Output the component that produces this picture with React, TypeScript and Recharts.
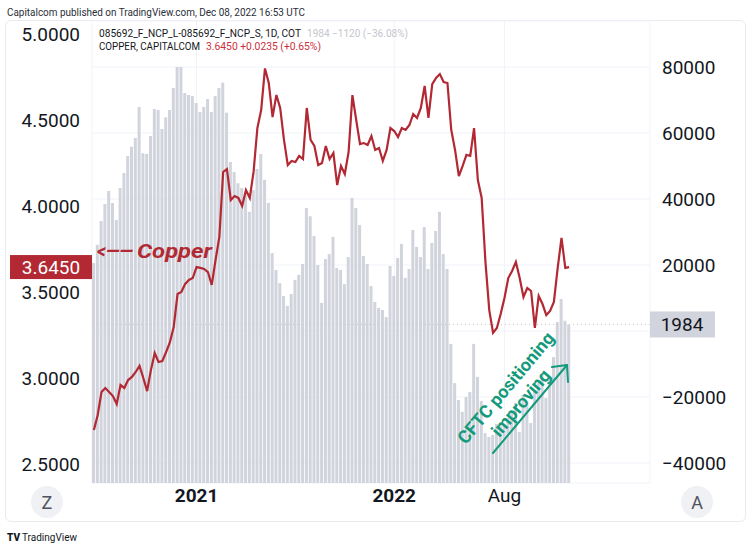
import React from 'react';
import { ComposedChart, Bar, Line, XAxis, YAxis, CartesianGrid, ReferenceLine } from 'recharts';

// Weekly COT net positions (non-commercial long - short), one per week
const cotNetPositions = [
  20600, 26100, 33300, 38500, 42400, 38800, 33600, 43300, 47900, 53000,
  55800, 58500, 67900, 53900, 53600, 59100, 67300, 67000, 61200, 64800,
  67000, 73600, 80000, 80000, 72100, 71500, 71200, 69100, 66400, 67900,
  70300, 66400, 71200, 73600, 75200, 66100, 51200, 48200, 44800, 43300,
  41200, 36100, 42700, 49100, 53600, 45800, 38800, 23600, 18500, 14500,
  10600, 7600, 11200, 15500, 17000, 20300, 37300, 34800, 28800, 20000,
  8500, 21800, 23300, 28500, 19100, 18500, 14200, 22400, 40300, 37300,
  32100, 22700, 20300, 13600, 8800, 7000, 6400, 4200, 19700, 16700,
  22100, 26400, 16100, 18800, 30600, 25500, 22400, 31500, 18800, 26700,
  30300, 36100, 23300, 18800, -3900, -15800, -20900, -24500, -20000, -18500,
  -3900, -13900, -21200, -30900, -32100, -31500, -28200, -28500, -28200, -26400,
  -24500, -21800, -30600, -19400, -21500, -27900, -18500, -15800, -13300, -20300,
  -13900, -7900, 2700, 9700, 3104, 1984,
];

// Copper price (USD/lb) at the same weeks
const copperPrice = [
  2.698, 2.785, 2.919, 2.942, 2.919, 2.895, 2.849, 2.959, 2.942, 2.988,
  3.006, 3.035, 3.070, 3.000, 2.924, 3.047, 3.145, 3.093, 3.099, 3.151,
  3.209, 3.297, 3.488, 3.500, 3.547, 3.570, 3.581, 3.645, 3.640, 3.634,
  3.616, 3.541, 3.686, 3.820, 4.198, 4.215, 4.035, 4.058, 4.047, 4.000,
  4.093, 4.047, 4.198, 4.453, 4.558, 4.800, 4.715, 4.517, 4.645, 4.570,
  4.384, 4.238, 4.262, 4.256, 4.291, 4.273, 4.570, 4.384, 4.349, 4.238,
  4.250, 4.349, 4.273, 4.308, 4.122, 4.233, 4.186, 4.314, 4.645, 4.500,
  4.360, 4.366, 4.355, 4.407, 4.326, 4.337, 4.262, 4.326, 4.453, 4.436,
  4.401, 4.453, 4.442, 4.471, 4.535, 4.512, 4.570, 4.698, 4.512, 4.709,
  4.744, 4.767, 4.721, 4.715, 4.442, 4.326, 4.174, 4.233, 4.297, 4.291,
  4.453, 4.151, 4.047, 3.674, 3.395, 3.262, 3.291, 3.372, 3.465, 3.581,
  3.622, 3.674, 3.581, 3.471, 3.523, 3.506, 3.291, 3.477, 3.430, 3.366,
  3.390, 3.442, 3.640, 3.814, 3.640, 3.645,
];

const xTickIndex = [27, 79, 108];
const xTickLabels = ['2021', '2022', 'Aug'];
const priceTicks = [2.5, 3.0, 3.5, 4.0, 4.5, 5.0];
const cotTicks = [-40000, -20000, 0, 20000, 40000, 60000, 80000];
const priceDomain = [2.3895, 5.0756];
const cotDomain = [-46061, 93939];
const lastCot = 1984;
const lastPrice = 3.645;

const FONT = 'Roboto, "Noto Sans", sans-serif';
const RED = '#b22833';
const GREEN = '#139a7b';
const BAR = '#d1d4dc';

const data = cotNetPositions.map((v, i) => ({
  i,
  cot: [cotDomain[0], v],
  price: copperPrice[i],
}));

const fmtSigned = (v: number) => (v < 0 ? '\u2212' + Math.abs(v) : String(v));

const LeftTick = (props: any) => {
  const { x, y, payload } = props;
  return (
    <text x={x} y={y} dy={7} textAnchor="end" fill="#131722" fontSize={19} fontFamily={FONT}>
      {Number(payload.value).toFixed(4)}
    </text>
  );
};

const RightTick = (props: any) => {
  const { x, y, payload } = props;
  if (payload.value === 0) return <g />;
  return (
    <text x={x} y={y} dy={7} textAnchor="start" fill="#131722" fontSize={19} fontFamily={FONT}>
      {fmtSigned(payload.value)}
    </text>
  );
};

const BottomTick = (props: any) => {
  const { x, y, payload } = props;
  const k = xTickIndex.indexOf(payload.value);
  const label = k >= 0 ? xTickLabels[k] : '';
  const bold = /^\d{4}$/.test(label);
  return (
    <text x={x} y={y} dy={14} textAnchor="middle" fill="#131722" fontSize={19}
      fontWeight={bold ? 700 : 400} fontFamily={FONT}>
      {label}
    </text>
  );
};

const PriceBadge = (props: any) => {
  const vb = props.viewBox || {};
  const x = vb.x ?? 92;
  const y = vb.y ?? 0;
  return (
    <g>
      <rect x={x - 82} y={y - 12} width={82} height={24} fill={RED} />
      <text x={x - 41} y={y + 7} textAnchor="middle" fill="#fff" fontSize={19} fontFamily={FONT}>
        {lastPrice.toFixed(4)}
      </text>
    </g>
  );
};

const CotBadge = (props: any) => {
  const vb = props.viewBox || {};
  const x = (vb.x ?? 92) + (vb.width ?? 558);
  const y = vb.y ?? 0;
  return (
    <g>
      <rect x={x} y={y - 13} width={65} height={26} fill={BAR} />
      <text x={x + 32} y={y + 7} textAnchor="middle" fill="#131722" fontSize={19} fontFamily={FONT}>
        {lastCot}
      </text>
    </g>
  );
};

export default function App() {
  return (
    <div style={{ position: 'absolute', left: 0, top: 0, width: 750, height: 549, background: '#fff', fontFamily: FONT }}>
      <div style={{ position: 'absolute', left: 5, top: 20, width: 739, height: 500, border: '1px solid #e9ebf0', borderRadius: 6 }} />
      <div style={{ position: 'absolute', left: 0, top: 0 }}>
        <ComposedChart width={750} height={549} data={data} margin={{ top: 21, right: 0, left: 0, bottom: 28 }}
          barCategoryGap={1}>
          <CartesianGrid yAxisId="right" stroke="#f0f3fa" strokeWidth={1} />
          <XAxis dataKey="i" type="category" ticks={xTickIndex} interval={0} tick={<BottomTick />}
            tickLine={false} axisLine={false} tickSize={0} tickMargin={5} height={38} padding={{ left: 0, right: 79 }} />
          <YAxis yAxisId="left" orientation="left" width={92} type="number" domain={priceDomain} allowDataOverflow
            ticks={priceTicks} tick={<LeftTick />} tickLine={false} axisLine={false} tickSize={0} tickMargin={12} />
          <YAxis yAxisId="right" orientation="right" width={100} type="number" domain={cotDomain} allowDataOverflow
            ticks={cotTicks} tick={<RightTick />} tickLine={false} axisLine={false} tickSize={0} tickMargin={12} />
          <ReferenceLine yAxisId="right" y={lastCot} stroke="#c4c7cf" strokeDasharray="1 3" label={<CotBadge />} />
          <Bar yAxisId="right" dataKey="cot" fill={BAR} barSize={3} isAnimationActive={false} />
          <Line yAxisId="left" dataKey="price" type="linear" stroke={RED} strokeWidth={2.2} dot={false}
            activeDot={false} isAnimationActive={false} />
          <ReferenceLine yAxisId="left" y={lastPrice} stroke="transparent" label={<PriceBadge />} />
        </ComposedChart>
      </div>
      <svg width={750} height={549} style={{ position: 'absolute', left: 0, top: 0, pointerEvents: 'none' }}>
        <text x={7} y={16} fontSize={11} fill="#2a2e39" fontFamily={FONT} textLength={298} lengthAdjust="spacingAndGlyphs">
          Capitalcom published on TradingView.com, Dec 08, 2022 16:53 UTC
        </text>
        <text x={99} y={37} fontSize={10.5} fill="#131722" fontFamily={FONT} textLength={202} lengthAdjust="spacingAndGlyphs">
          085692_F_NCP_L-085692_F_NCP_S, 1D, COT
        </text>
        <text x={307} y={37} fontSize={10.5} fill="#c3c6ce" fontFamily={FONT} textLength={101} lengthAdjust="spacingAndGlyphs">
          {'1984  \u22121120 (\u221236.08%)'}
        </text>
        <text x={99} y={50} fontSize={10.5} fill="#131722" fontFamily={FONT} textLength={101} lengthAdjust="spacingAndGlyphs">
          COPPER, CAPITALCOM
        </text>
        <text x={206} y={50} fontSize={10.5} fill="#cc2f3c" fontFamily={FONT} textLength={115} lengthAdjust="spacingAndGlyphs">
          3.6450  +0.0235 (+0.65%)
        </text>

        <text x={97} y={258} fontSize={20} fontWeight={700} fontStyle="italic" fill={RED} fontFamily={FONT}
          textLength={36} lengthAdjust="spacingAndGlyphs">{'<\u2014\u2014'}</text>
        <text x={137} y={258} fontSize={20} fontWeight={700} fontStyle="italic" fill={RED} fontFamily={FONT}
          textLength={75} lengthAdjust="spacingAndGlyphs">Copper</text>

        <g transform="rotate(-50 506 388)">
          <text x={506} y={394} textAnchor="middle" fontSize={18} fontWeight={700} fill={GREEN} fontFamily={FONT}>
            CFTC positioning
          </text>
        </g>
        <g transform="rotate(-50 521 403)">
          <text x={521} y={409} textAnchor="middle" fontSize={18} fontWeight={700} fill={GREEN} fontFamily={FONT}>
            improving
          </text>
        </g>
        <line x1={493} y1={453} x2={567} y2={365} stroke={GREEN} strokeWidth={2} strokeLinecap="round" />
        <polyline points="552,367 567,365 568,382" fill="none" stroke={GREEN} strokeWidth={2} strokeLinecap="round" strokeLinejoin="round" />

        <circle cx={47} cy={502} r={16} fill="#f0f1f4" />
        <text x={47} y={509} textAnchor="middle" fontSize={18} fill="#50535e" fontFamily={FONT}>Z</text>
        <circle cx={697} cy={502} r={16} fill="#f0f1f4" />
        <text x={697} y={509} textAnchor="middle" fontSize={18} fill="#50535e" fontFamily={FONT}>A</text>

        <text x={7} y={541} fontSize={10} fontWeight={900} fill="#131722" fontFamily={FONT}>TV</text>
        <text x={22} y={541} fontSize={10} fill="#131722" fontFamily={FONT}>TradingView</text>
      </svg>
    </div>
  );
}
